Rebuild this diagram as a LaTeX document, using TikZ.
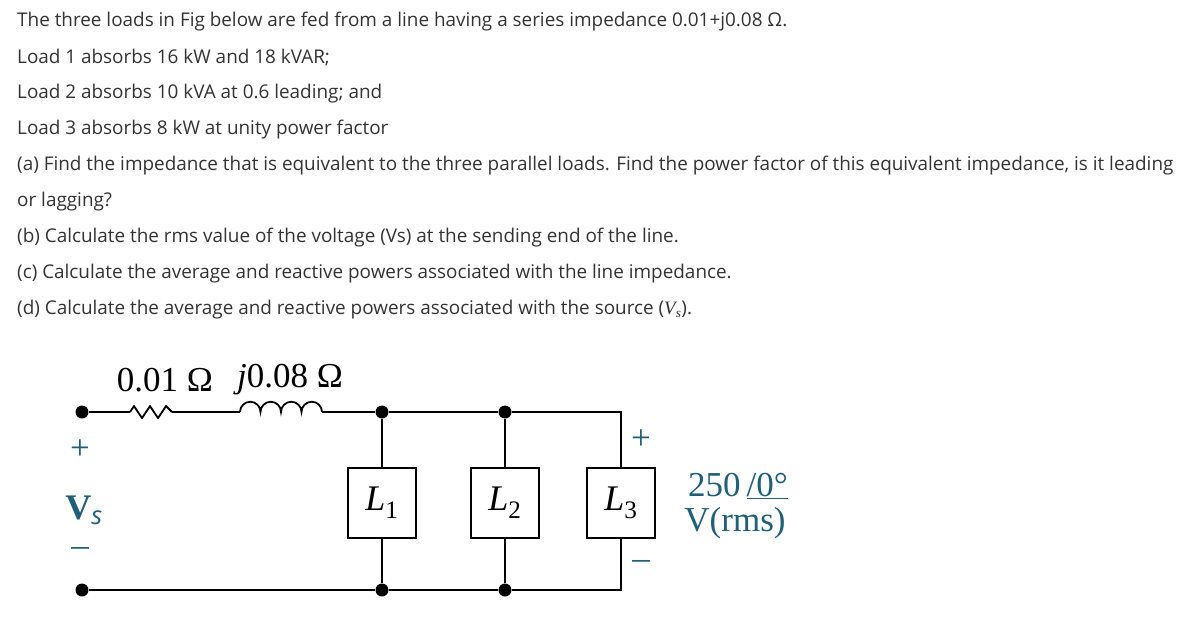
\documentclass[tikz,border=0pt]{standalone}
\usepackage{fontspec}
\setmainfont{Open Sans}
\newfontfamily\ser{Liberation Serif}
\usetikzlibrary{decorations.pathmorphing}
\definecolor{tl}{HTML}{1F5F7A}
\definecolor{tx}{HTML}{333333}
\begin{document}
\begin{tikzpicture}[x=1pt,y=-1pt,
  q/.style={anchor=west,inner sep=0,font=\fontsize{18.9}{20}\selectfont,text=tx},
  w/.style={line width=1.8pt},
  dot/.style={circle,fill,inner sep=0,minimum size=13pt},
  box/.style={draw,line width=2.6pt,minimum width=68pt,minimum height=70pt,inner sep=0,font=\ser\fontsize{36}{36}\selectfont\itshape},
  cl/.style={font=\ser\fontsize{35}{35}\selectfont,inner sep=0}]
\useasboundingbox (0,0) rectangle (1200,633);
\node[q] (t1) at (17,22) {The three loads in Fig below are fed from a line having a series impedance 0.01+j0.08 Ω.};
\node[q] (t2) at (17,58) {Load 1 absorbs 16 kW and 18 kVAR;};
\node[q] (t3) at (17,94) {Load 2 absorbs 10 kVA at 0.6 leading; and};
\node[q] (t4) at (17,130) {Load 3 absorbs 8 kW at unity power factor};
\node[q] (t5) at (17,166) {(a) Find the impedance that is equivalent to the three parallel loads. Find the power factor of this equivalent impedance, is it leading};
\node[q] (t6) at (17,202) {or lagging?};
\node[q] (t7) at (17,238) {(b) Calculate the rms value of the voltage (Vs) at the sending end of the line.};
\node[q] (t8) at (17,274) {(c) Calculate the average and reactive powers associated with the line impedance.};
\node[q] (t9) at (17,310) {(d) Calculate the average and reactive powers associated with the source ({\ser\itshape V\textsubscript{s}}).};
% circuit
\node[dot] (a) at (82,412) {};
\node[dot] (b) at (82,590) {};
\node[dot] (n1) at (382,412) {};
\node[dot] (n2) at (505,412) {};
\node[dot] (m1) at (382,590) {};
\node[dot] (m2) at (505,590) {};
\coordinate (c3) at (621,412);
\coordinate (d3) at (621,590);
\coordinate (r1) at (130,412);
\coordinate (r2) at (172,412);
\coordinate (i1) at (240,412);
\coordinate (i2) at (322,412);
\node[box] (L1) at (382,503) {L\textsubscript{\upshape 1}};
\node[box] (L2) at (505,503) {L\textsubscript{\upshape 2}};
\node[box] (L3) at (621,503) {L\textsubscript{\upshape 3}};
\draw[w] (a) -- (r1);
\draw[w,line join=round] (r1) -- ++(4,-6) -- ++(8,12) -- ++(8,-12) -- ++(8,12) -- ++(8,-12) -- ++(6,6) -- (r2);
\draw[w] (r2) -- (i1);
\draw[w] (i1) \foreach \k in {0,1,2,3} { arc[start angle=180,end angle=360,radius=10.25] };
\draw[w] (i2) -- (n1) -- (n2) -- (c3) -- (L3.north);
\draw[w] (n1) -- (L1.north) (n2) -- (L2.north);
\draw[w] (b) -- (m1) -- (m2) -- (d3) -- (L3.south);
\draw[w] (m1) -- (L1.south) (m2) -- (L2.south);
\node[cl] (lab1) at (165,380) {0.01 Ω};
\node[cl] (lab2) at (290,380) {\itshape j\upshape 0.08 Ω};
\node[cl,text=tl] (p1) at (80,450) {+};
\node[cl,text=tl,font=\ser\bfseries\fontsize{36}{36}\selectfont] (vs) at (84,510) {V\textsubscript{\normalfont\itshape s}};
\node[cl,text=tl] (m1l) at (80,552) {–};
\node[cl,text=tl] (p3) at (641,440) {+};
\node[cl,text=tl] (m3) at (641,565) {–};
\node[cl,text=tl] (v1) at (738,486) {250\,\underline{\smash{/0°}}};
\node[cl,text=tl] (v2) at (735,523) {V(rms)};
\end{tikzpicture}
\end{document}
